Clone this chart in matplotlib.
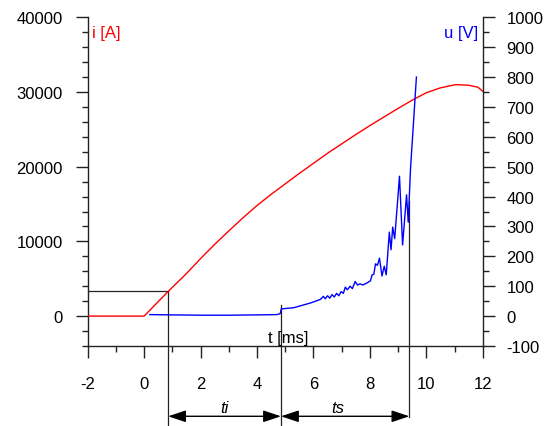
import matplotlib
matplotlib.use("Agg")
import matplotlib.pyplot as plt
from matplotlib.ticker import MultipleLocator

plt.rcParams["font.family"] = ["Liberation Sans", "DejaVu Sans"]
plt.rcParams["axes.unicode_minus"] = False

# Current i(t) [A]
t_i = [-2.0, 0.0, 0.85, 1.5, 2.0, 2.5, 3.0, 3.5, 4.0, 4.5, 5.0, 5.5, 6.0,
       6.5, 7.0, 7.5, 8.0, 8.5, 9.0, 9.5, 10.0, 10.5, 11.05, 11.5, 11.83, 12.0]
i_A = [0, 0, 3300, 5700, 7700, 9600, 11400, 13150, 14800, 16300, 17700, 19100,
       20450, 21800, 23050, 24300, 25500, 26650, 27800, 28900, 29900, 30550,
       30990, 30900, 30640, 30100]

# Voltage u(t) [V]
t_u = [0.2, 1.0, 2.0, 3.0, 4.0, 4.7, 4.82, 4.86, 5.3, 5.9, 6.25, 6.35, 6.42,
       6.5, 6.58, 6.66, 6.74, 6.82, 6.9, 6.98, 7.06, 7.13, 7.2, 7.3, 7.38,
       7.48, 7.56, 7.65, 7.75, 7.9, 8.02, 8.08, 8.14, 8.2, 8.27, 8.34, 8.43,
       8.51, 8.58, 8.69, 8.75, 8.81, 8.88, 9.05, 9.16, 9.3, 9.36, 9.44, 9.65]
u_V = [5, 4, 3, 3, 4, 5, 8, 24, 28, 44, 56, 66, 58, 68, 60, 72, 64, 76, 68,
       82, 76, 97, 88, 100, 92, 116, 104, 108, 104, 111, 118, 138, 140, 175,
       170, 194, 134, 167, 138, 281, 222, 298, 259, 468, 238, 406, 314, 492,
       800]

# Marked instants [ms] and levels
t_start, t_ign, t_end = 0.85, 4.85, 9.4
i_mark = 3300
u_ign_mark = 38
u_end_mark = 385

x_ticks = [-2, 0, 2, 4, 6, 8, 10, 12]
i_ticks = [0, 10000, 20000, 30000, 40000]
u_ticks = list(range(-100, 1001, 100))

fig = plt.figure(figsize=(5.52, 4.27), dpi=100)
ax = fig.add_axes([0.1589, 0.1874, 0.7156, 0.7698])
ax2 = ax.twinx()

ax.set_xlim(-2, 12)
ax.set_ylim(-4000, 40000)
ax2.set_ylim(-100, 1000)

ax.plot(t_i, i_A, color="#ff0000", lw=1.0, zorder=3)
ax2.plot(t_u, u_V, color="#0000ff", lw=1.0, zorder=3)

# spines
for a in (ax, ax2):
    a.spines["top"].set_visible(False)
    a.patch.set_visible(False)
ax.spines["right"].set_visible(False)
ax2.spines["left"].set_visible(False)
ax2.spines["bottom"].set_visible(False)
for a, s in ((ax, "left"), (ax, "bottom"), (ax2, "right")):
    a.spines[s].set_linewidth(1.0)
    a.spines[s].set_color("#222222")

# ticks
ax.set_xticks(x_ticks)
ax.xaxis.set_minor_locator(MultipleLocator(1))
ax.set_yticks(i_ticks)
ax.yaxis.set_minor_locator(MultipleLocator(2000))
ax2.set_yticks(u_ticks)
ax2.yaxis.set_minor_locator(MultipleLocator(50))

ax.tick_params(axis="x", which="major", direction="out", length=8.6, width=1.0,
               pad=13, labelsize=12, color="#222222")
ax.tick_params(axis="x", which="minor", direction="out", length=4.3, width=1.0,
               color="#222222")
ax.tick_params(axis="y", which="major", direction="out", length=8.6, width=1.0,
               pad=9.5, labelsize=12, color="#222222")
ax.tick_params(axis="y", which="minor", direction="out", length=4.3, width=1.0,
               color="#222222")
ax2.tick_params(axis="y", which="major", direction="out", length=8.6, width=1.0,
                pad=8.6, labelsize=12, color="#222222")
ax2.tick_params(axis="y", which="minor", direction="out", length=4.3, width=1.0,
                color="#222222")

# axis captions
ax.text(0.012, 0.955, "i [A]", transform=ax.transAxes, color="#ff0000",
        fontsize=12, ha="left", va="center")
ax.text(0.988, 0.955, "u [V]", transform=ax.transAxes, color="#0000ff",
        fontsize=12, ha="right", va="center")
ax.text(5.12, 0.025, "t [ms]", transform=ax.get_xaxis_transform(),
        fontsize=12, ha="center", va="center")

# marker lines (x in data, y in axes fraction)
xt = ax.get_xaxis_transform()
i_lo, i_hi = ax.get_ylim()
u_lo, u_hi = ax2.get_ylim()
y_bottom = -0.2434
y_arrow = -0.2139
line_kw = dict(color="#222222", lw=0.9, transform=xt, clip_on=False, zorder=2)

f_i = (i_mark - i_lo) / (i_hi - i_lo)
ax.plot([-2, t_start], [f_i, f_i], **line_kw)
ax.plot([t_start, t_start], [f_i, y_bottom], **line_kw)
f_ign = (u_ign_mark - u_lo) / (u_hi - u_lo)
ax.plot([t_ign, t_ign], [f_ign, y_bottom], **line_kw)
f_end = (u_end_mark - u_lo) / (u_hi - u_lo)
ax.plot([t_end, t_end], [f_end, y_arrow - 0.003], **line_kw)

arrow_kw = dict(arrowstyle="<|-|>,head_length=1.08,head_width=0.36",
                color="black", lw=1.0, shrinkA=0, shrinkB=0, mutation_scale=10)
ax.annotate("", xy=(t_start, y_arrow), xytext=(t_ign, y_arrow),
            xycoords=xt, textcoords=xt, arrowprops=arrow_kw,
            annotation_clip=False)
ax.annotate("", xy=(t_ign, y_arrow), xytext=(t_end, y_arrow),
            xycoords=xt, textcoords=xt, arrowprops=arrow_kw,
            annotation_clip=False)
ax.text((t_start + t_ign) / 2, -0.186, "ti", transform=xt, fontsize=12,
        style="italic", ha="center", va="center")
ax.text(6.85, -0.186, "ts", transform=xt, fontsize=12,
        style="italic", ha="center", va="center")

fig.savefig("out.png", dpi=100)
